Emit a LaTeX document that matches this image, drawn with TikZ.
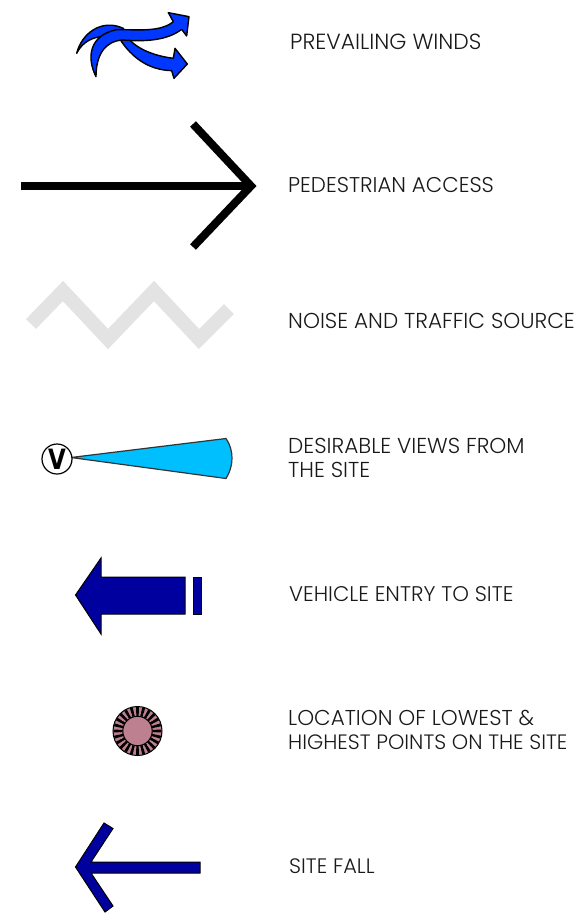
\documentclass[tikz,border=0pt]{standalone}
\usepackage{fontspec}
\usepackage{graphicx}
\usetikzlibrary{calc}
\setmainfont{Poppins Light}
\begin{document}
\begin{tikzpicture}[x=1pt,y=-1pt,
  lbl/.style={anchor=west,inner sep=0pt,align=left,font=\fontsize{#1}{23.5}\selectfont,text=black!90},
  lbl/.default=21.4,
  windarrow/.style={fill=windblue,draw=black,line width=1.4pt,line join=round},
  solidarrow/.style={fill=deepblue,draw=black,line width=1pt,line join=miter}]
\definecolor{windblue}{HTML}{0038FF}
\definecolor{viewblue}{HTML}{00BFFF}
\definecolor{deepblue}{HTML}{00009F}
\definecolor{pinkfill}{HTML}{BC8090}
\definecolor{noisegrey}{HTML}{E3E3E3}
\useasboundingbox (0,0) rectangle (582,918);
% winds
\begin{scope}[shift={(60,0)},x=0.3333pt,y=-0.3333pt]
\path[windarrow] (50,160) .. controls (65,100) and (125,55) .. (190,85)
  .. controls (200,130) and (260,165) .. (340,175) -- (345,145) -- (382,192) -- (342,235) -- (335,212)
  .. controls (265,210) and (215,172) .. (180,118)
  .. controls (130,100) and (75,110) .. cycle;
\path[windarrow] (108,230) .. controls (78,170) and (90,105) .. (170,89)
  .. controls (230,88) and (300,98) .. (340,65) -- (325,38) -- (387,50) -- (380,108) -- (365,88)
  .. controls (320,123) and (250,125) .. (190,120)
  .. controls (135,122) and (108,165) .. cycle;
\end{scope}
% pedestrian
\coordinate (pedtail) at (21,186);
\coordinate (pedtip) at (251,186);
\draw[line width=8.5pt] (pedtail) -- (pedtip);
\draw[line width=8pt] (193,124) -- (pedtip) -- (193,247);
% noise
\draw[noisegrey,line width=14pt] (31,324) -- (63,291) -- (108,339) -- (154,291) -- (199,339) -- (229,309);
% views
\fill[viewblue,draw=black!80,line width=1.2pt] (71,457.5) -- (226,438.5) .. controls (234,450) and (234,466) .. (226,478.5) -- cycle;
\node[circle,draw=black,fill=white,line width=1.2pt,minimum size=30pt,inner sep=0pt,font=\fontsize{28}{28}\fontspec{DejaVu Sans}\bfseries] (v) at (57,459) {\scalebox{.82}[1]{V}};
% vehicle
\path[solidarrow] (75.5,595) -- (101,558) -- (101,577) -- (185,577) -- (185,614) -- (101,614) -- (101,634) -- cycle;
\path[solidarrow] (193,577) rectangle (201,614);
% lowest / highest
\fill[pinkfill,draw=black,line width=1pt] (137.5,731) circle (24.5);
\foreach \a in {0,15,...,345}{
  \fill[black] ($(137.5,731)+(\a-3.5:24)$) -- ($(137.5,731)+(\a+3.5:24)$) -- ($(137.5,731)+(\a+4.5:15)$) -- ($(137.5,731)+(\a-4.5:15)$) -- cycle;
}
\foreach \a in {0,15,...,345}{
  \fill[pinkfill] ($(137.5,731)+(\a+7.5:21.5)$) -- ($(137.5,731)+(\a+4:17.5)$) -- ($(137.5,731)+(\a+11:17.5)$) -- cycle;
}
\fill[pinkfill,draw=black,line width=1pt] (137.5,731) circle (14.7);
% site fall
\path[solidarrow] (75.5,867) -- (104,823) -- (113,828.5) -- (91,862) -- (200,862) -- (200,873) -- (91,873) -- (113,906) -- (105,912) -- cycle;
% labels
\node[lbl=21.9] (l1) at (290,42) {PREVAILING WINDS};
\node[lbl=21.35] (l2) at (288,185) {PEDESTRIAN ACCESS};
\node[lbl=21.6] (l3) at (288,321) {NOISE AND TRAFFIC SOURCE};
\node[lbl=21.6] (l4) at (288,458) {DESIRABLE VIEWS FROM\\THE SITE};
\node[lbl=21.2] (l5) at (289,594) {VEHICLE ENTRY TO SITE};
\node[lbl=21.5] (l6) at (288,730) {LOCATION OF LOWEST \&\\{\fontsize{20.8}{23.5}\selectfont HIGHEST POINTS ON THE SITE}};
\node[lbl=20.9] (l7) at (289,866) {SITE FALL};
\end{tikzpicture}
\end{document}
